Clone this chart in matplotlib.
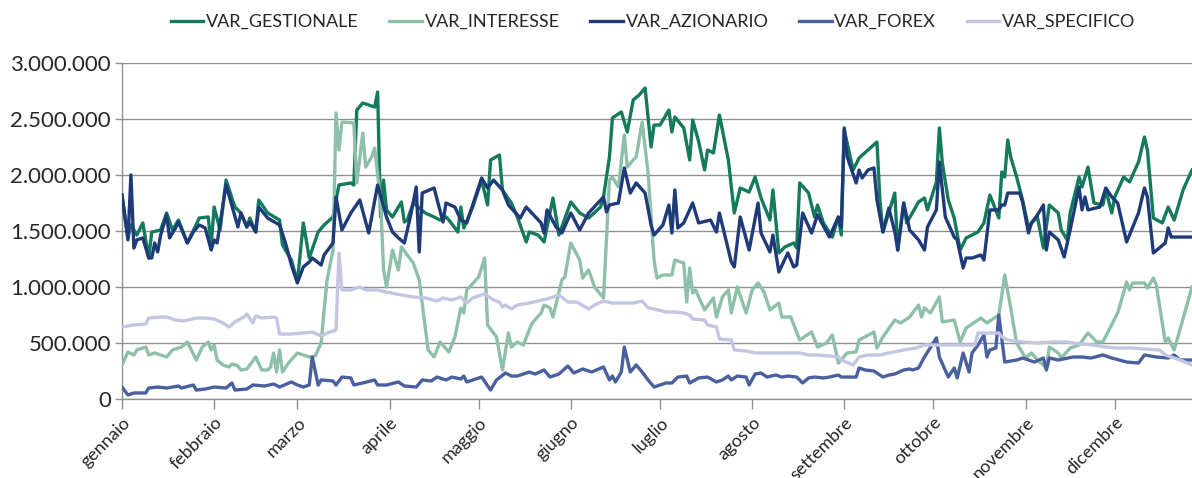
import matplotlib
matplotlib.use("Agg")
import matplotlib.pyplot as plt
import numpy as np
from matplotlib.ticker import FuncFormatter, MultipleLocator

plt.rcParams['font.family'] = ['Lato', 'DejaVu Sans']

YEAR = 2019
MONTHS = ['gennaio', 'febbraio', 'marzo', 'aprile', 'maggio', 'giugno',
          'luglio', 'agosto', 'settembre', 'ottobre', 'novembre', 'dicembre']
SERIES = ['VAR_GESTIONALE', 'VAR_INTERESSE', 'VAR_AZIONARIO', 'VAR_FOREX', 'VAR_SPECIFICO']

# day of year (0 = 1 January) and values in thousands
gest_day = [0, 2, 3, 5, 7, 9, 10, 13, 15, 17, 19, 22, 26, 29, 30, 31, 33, 35, 38, 40,
            42, 43, 45, 46, 49, 53, 54, 57, 59, 61, 63, 66, 68, 71, 72, 73, 77, 78, 79, 81,
            85, 86, 87, 88, 89, 91, 94, 95, 96, 98, 102, 105, 107, 109, 110, 113, 114, 115, 118, 121,
            123, 124, 127, 128, 131, 133, 136, 137, 140, 142, 145, 147, 151, 154, 157, 161, 162, 164, 165, 168,
            170, 172, 174, 176, 178, 179, 181, 184, 185, 186, 189, 191, 192, 194, 196, 197, 199, 201, 204, 206,
            208, 211, 213, 215, 218, 219, 221, 223, 226, 227, 228, 231, 233, 234, 236, 239, 241, 242, 243, 246,
            248, 254, 255, 256, 260, 261, 263, 264, 268, 270, 271, 274, 275, 276, 278, 280, 282, 284, 288, 290,
            292, 295, 296, 297, 298, 299, 301, 303, 305, 306, 308, 310, 312, 315, 316, 318, 319, 322, 323, 325,
            327, 330, 331, 333, 334, 337, 339, 342, 344, 345, 347, 350, 352, 354, 357, 360]
gest_val = [1821, 1438, 1554, 1464, 1572, 1259, 1491, 1509, 1661, 1509, 1598, 1393, 1616, 1625, 1375, 1714, 1509, 1955, 1714, 1661,
            1536, 1616, 1491, 1777, 1661, 1598, 1375, 1241, 1045, 1572, 1259, 1491, 1554, 1625, 1777, 1911, 1929, 1911, 2580, 2643,
            2607, 2741, 1625, 1955, 1688, 1625, 1759, 1580, 1598, 1750, 1661, 1625, 1598, 1625, 1598, 1491, 1714, 1527, 1714, 1955,
            1732, 2134, 2179, 1866, 1750, 1625, 1402, 1491, 1464, 1402, 1795, 1464, 1759, 1661, 1616, 1714, 1804, 2161, 2509, 2563,
            2384, 2670, 2714, 2777, 2250, 2446, 2446, 2580, 2384, 2518, 2420, 2134, 2491, 2300, 2045, 2223, 2197, 2536, 2134, 1661,
            1884, 1848, 1982, 1795, 1598, 1866, 1304, 1357, 1393, 1348, 1929, 1839, 1625, 1732, 1572, 1446, 1625, 1464, 2402, 2045,
            2152, 2295, 1777, 1491, 1839, 1330, 1750, 1572, 1759, 1795, 1688, 1938, 2420, 2107, 1777, 1616, 1330, 1438, 1491, 1572,
            1821, 1616, 2027, 1982, 2313, 2161, 1982, 1777, 1527, 1572, 1625, 1348, 1732, 1661, 1509, 1420, 1661, 1982, 1893, 2071,
            1750, 1732, 1866, 1661, 1804, 1982, 1938, 2116, 2339, 2223, 1616, 1572, 1714, 1598, 1866, 2045]

azi_day = [0, 2, 3, 4, 5, 7, 9, 10, 11, 12, 13, 15, 16, 18, 19, 22, 24, 26, 28, 30,
           31, 32, 35, 39, 40, 42, 43, 45, 46, 49, 53, 55, 57, 59, 61, 63, 64, 67, 68, 71,
           72, 74, 77, 80, 83, 86, 89, 91, 93, 95, 97, 99, 100, 101, 105, 108, 109, 112, 114, 116,
           121, 123, 125, 128, 130, 134, 136, 141, 142, 143, 146, 148, 151, 154, 157, 162, 163, 164, 167, 169,
           171, 173, 176, 178, 179, 182, 184, 185, 186, 187, 189, 192, 194, 198, 200, 201, 205, 206, 208, 211,
           214, 215, 218, 219, 221, 224, 226, 227, 229, 232, 234, 238, 241, 242, 243, 244, 247, 248, 249, 251,
           253, 254, 256, 258, 260, 261, 263, 265, 268, 270, 271, 274, 275, 277, 280, 281, 283, 284, 286, 289,
           290, 292, 295, 296, 297, 298, 302, 303, 305, 306, 308, 310, 311, 312, 315, 317, 319, 322, 323, 324,
           325, 329, 331, 333, 335, 338, 342, 344, 345, 347, 351, 352, 353, 360]
azi_val = [1821, 1420, 2000, 1348, 1420, 1438, 1259, 1259, 1393, 1313, 1464, 1643, 1438, 1527, 1580, 1393, 1491, 1554, 1527, 1330,
           1420, 1393, 1911, 1536, 1661, 1536, 1580, 1491, 1714, 1616, 1554, 1393, 1196, 1036, 1179, 1223, 1259, 1196, 1286, 1393,
           1804, 1509, 1661, 1777, 1482, 1911, 1625, 1491, 1438, 1393, 1625, 1893, 1313, 1839, 1884, 1580, 1750, 1714, 1598, 1572,
           1973, 1884, 1955, 1866, 1732, 1616, 1714, 1572, 1482, 1688, 1536, 1482, 1661, 1509, 1661, 1804, 1670, 1732, 1750, 2063,
           1839, 1929, 1839, 1554, 1464, 1554, 1732, 1482, 1866, 1527, 1572, 1750, 1572, 1598, 1491, 1661, 1223, 1179, 1625, 1330,
           1750, 1482, 1313, 1464, 1134, 1304, 1179, 1196, 1661, 1482, 1643, 1446, 1625, 1536, 2420, 2161, 1929, 2045, 1973, 2045,
           2063, 1777, 1491, 1705, 1491, 1330, 1750, 1509, 1420, 1330, 1536, 1688, 2116, 1625, 1446, 1420, 1170, 1259, 1259, 1286,
           1241, 1688, 1688, 1732, 1732, 1839, 1839, 1759, 1482, 1572, 1643, 1732, 1330, 1491, 1420, 1268, 1509, 1893, 1688, 1804,
           1688, 1714, 1884, 1804, 1750, 1402, 1661, 1884, 1804, 1304, 1393, 1527, 1446, 1446]

int_day = [0, 2, 4, 5, 8, 9, 11, 15, 17, 20, 22, 23, 25, 27, 29, 30, 31, 32, 34, 36,
           37, 39, 40, 42, 45, 47, 49, 50, 51, 52, 53, 54, 56, 59, 61, 63, 65, 67, 68, 69,
           71, 72, 73, 74, 78, 79, 81, 82, 84, 85, 87, 88, 89, 91, 93, 94, 98, 100, 103, 105,
           107, 110, 112, 114, 115, 116, 120, 122, 123, 126, 128, 130, 131, 133, 135, 137, 138, 141, 142, 144,
           145, 148, 149, 151, 154, 155, 157, 159, 162, 163, 164, 165, 167, 169, 170, 172, 173, 175, 177, 179,
           180, 182, 185, 186, 189, 190, 191, 192, 193, 196, 199, 200, 202, 204, 205, 207, 210, 212, 214, 216,
           218, 221, 222, 225, 228, 232, 234, 237, 239, 241, 244, 247, 248, 253, 254, 256, 260, 262, 265, 268,
           269, 270, 272, 275, 276, 280, 282, 284, 287, 289, 291, 295, 297, 299, 301, 304, 306, 308, 311, 312,
           315, 316, 319, 322, 325, 328, 330, 335, 338, 339, 340, 344, 345, 347, 348, 351, 352, 354, 360]
int_val = [304, 420, 393, 438, 464, 393, 411, 375, 438, 464, 509, 455, 348, 464, 509, 438, 482, 348, 304, 286,
           313, 295, 259, 268, 375, 259, 259, 286, 411, 241, 438, 241, 321, 411, 393, 375, 384, 500, 795, 1063,
           1330, 2554, 2223, 2473, 2464, 1929, 2375, 2071, 2161, 2241, 1777, 1152, 1000, 1330, 1152, 1357, 1214, 1063, 438, 375,
           509, 420, 554, 813, 768, 973, 1089, 1259, 661, 554, 259, 589, 464, 509, 482, 616, 679, 768, 839, 813,
           732, 1063, 1089, 1393, 1241, 1080, 1152, 1000, 902, 1420, 1955, 1982, 1893, 2357, 2071, 2134, 2161, 2473, 2018, 1241,
           1080, 1107, 1107, 1241, 1214, 866, 1170, 946, 973, 795, 902, 732, 911, 973, 768, 1000, 768, 973, 1036, 955,
           795, 857, 732, 732, 527, 598, 464, 500, 571, 321, 411, 420, 527, 598, 455, 554, 705, 679, 732, 839,
           732, 813, 768, 911, 688, 705, 509, 634, 688, 723, 679, 750, 1107, 813, 500, 366, 411, 348, 277, 464,
           411, 366, 455, 482, 589, 509, 509, 768, 1045, 973, 1036, 1036, 991, 1080, 1018, 509, 545, 438, 1000]

fx_day = [0, 2, 4, 8, 9, 12, 15, 19, 20, 24, 25, 28, 31, 35, 37, 38, 42, 44, 48, 51,
          53, 57, 59, 61, 63, 64, 66, 67, 71, 72, 74, 77, 78, 81, 85, 86, 89, 93, 95, 99,
          101, 104, 106, 109, 111, 114, 115, 116, 121, 124, 126, 129, 131, 133, 137, 139, 142, 144, 147, 150,
          152, 155, 158, 162, 164, 165, 166, 168, 169, 171, 173, 175, 177, 179, 183, 185, 187, 190, 191, 194,
          197, 200, 202, 204, 205, 207, 210, 211, 213, 215, 217, 220, 222, 224, 227, 229, 231, 233, 236, 238,
          241, 242, 247, 248, 250, 253, 256, 258, 260, 263, 265, 266, 268, 270, 274, 275, 278, 280, 281, 283,
          285, 286, 288, 290, 291, 292, 294, 295, 297, 301, 303, 307, 310, 311, 312, 315, 320, 323, 326, 330,
          333, 338, 342, 344, 348, 352, 354, 356, 360]
fx_val = [107, 36, 54, 54, 98, 107, 98, 116, 98, 125, 80, 89, 107, 98, 143, 80, 89, 125, 116, 134,
          107, 152, 125, 107, 125, 375, 125, 170, 161, 125, 196, 188, 125, 143, 170, 125, 125, 152, 116, 107,
          170, 161, 196, 170, 196, 179, 205, 152, 196, 80, 170, 232, 205, 205, 241, 223, 259, 196, 223, 295,
          232, 268, 241, 286, 170, 205, 152, 241, 464, 241, 304, 241, 170, 107, 143, 143, 196, 205, 143, 188,
          196, 152, 170, 205, 170, 205, 196, 125, 223, 232, 196, 214, 196, 205, 196, 143, 188, 196, 188, 196,
          214, 196, 196, 277, 259, 250, 196, 214, 223, 259, 268, 259, 277, 375, 545, 375, 196, 277, 188, 411,
          241, 411, 482, 571, 375, 438, 455, 750, 330, 348, 366, 330, 366, 259, 366, 348, 375, 375, 366, 393,
          366, 330, 321, 393, 375, 366, 393, 348, 348]

spec_day = [0, 4, 8, 9, 13, 15, 18, 21, 25, 28, 31, 34, 36, 38, 41, 42, 44, 45, 47, 51,
            52, 53, 57, 61, 64, 67, 69, 72, 73, 74, 77, 80, 82, 86, 89, 94, 98, 102, 106, 108,
            111, 114, 116, 118, 122, 125, 127, 128, 129, 131, 133, 137, 140, 143, 147, 150, 153, 157, 159, 162,
            165, 169, 172, 175, 177, 179, 183, 186, 189, 191, 192, 196, 197, 200, 201, 205, 206, 210, 213, 216,
            220, 224, 228, 231, 234, 238, 241, 242, 246, 248, 251, 255, 258, 263, 267, 270, 279, 287, 288, 295,
            296, 298, 303, 308, 313, 318, 322, 327, 331, 335, 340, 344, 349, 351, 356, 360]
spec_val = [643, 661, 670, 723, 732, 732, 705, 697, 723, 723, 714, 679, 643, 688, 732, 759, 679, 741, 723, 732,
            723, 580, 580, 589, 598, 563, 589, 616, 1304, 973, 973, 1000, 973, 973, 955, 929, 911, 902, 875, 902,
            884, 911, 857, 902, 938, 884, 866, 821, 839, 804, 839, 857, 875, 893, 929, 866, 866, 804, 839, 875,
            857, 857, 857, 875, 813, 804, 777, 777, 768, 750, 714, 705, 661, 643, 536, 527, 438, 429, 411, 411,
            411, 411, 411, 393, 393, 384, 375, 348, 304, 375, 393, 393, 411, 438, 455, 482, 482, 482, 589, 589,
            554, 527, 509, 500, 509, 509, 491, 482, 464, 455, 455, 446, 438, 393, 348, 304]

COLORS = ['#137a5c', '#8dbfa9', '#1f3a78', '#4a5f9d', '#c3c5e3']

start = np.datetime64(f'{YEAR}-01-01')


def to_dates(days):
    return start + np.array(days, dtype='timedelta64[D]')


fig = plt.figure(figsize=(11.92, 4.78), dpi=100)
ax = fig.add_axes([122 / 1192, 79 / 478, 1070 / 1192, 336 / 478])

data = [(gest_day, gest_val), (int_day, int_val), (azi_day, azi_val),
        (fx_day, fx_val), (spec_day, spec_val)]
for i, ((d, v), name, c) in enumerate(zip(data, SERIES, COLORS)):
    ax.plot(to_dates(d), v, color=c, lw=2.4, label=name, zorder=3 + i,
            solid_joinstyle='round')

ax.set_ylim(0, 3000)
ax.set_xlim(start, start + np.timedelta64(360, 'D'))
ax.yaxis.set_major_locator(MultipleLocator(500))
ax.yaxis.set_major_formatter(FuncFormatter(
    lambda v, p: f"{int(round(v * 1000)):,}".replace(',', '.')))

month_starts = [np.datetime64(f'{YEAR}-{m:02d}-01') for m in range(1, 13)]
ax.set_xticks(month_starts, MONTHS, rotation=45, ha='right',
              rotation_mode='anchor')

ax.yaxis.grid(True, color='#8f8f8f', lw=1)
ax.set_axisbelow(True)
for s in ['top', 'right']:
    ax.spines[s].set_visible(False)
for s in ['left', 'bottom']:
    ax.spines[s].set_color('#8f8f8f')
    ax.spines[s].set_linewidth(1)

ax.tick_params(axis='y', length=5, width=1, color='#8f8f8f', labelsize=16,
               labelcolor='#262626', pad=3)
ax.tick_params(axis='x', length=7, width=1, color='#8f8f8f', labelsize=13,
               labelcolor='#262626', pad=4)

fig.legend(loc='center', bbox_to_anchor=(653 / 1192, 1 - 22 / 478), ncol=5,
           frameon=False, fontsize=13, handlelength=1.8, handletextpad=0.15,
           columnspacing=1.7, labelcolor='#262626')

fig.savefig('out.png', dpi=100)
